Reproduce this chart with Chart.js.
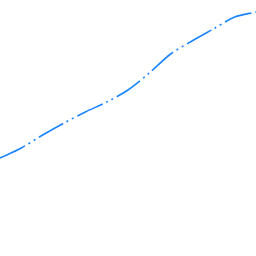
<!DOCTYPE html>
<html>
<head>
<meta charset="utf-8">
<script src="https://cdn.jsdelivr.net/npm/chart.js@4"></script>
<style>
  html, body { margin: 0; padding: 0; background: #fff; }
  #wrap { width: 256px; height: 256px; }
</style>
</head>
<body>
<div id="wrap"><canvas id="lineChart"></canvas></div>
<script>
const labels = [0, 1, 2, 3, 4, 5, 6, 7, 8, 9, 10, 11, 12];
const values = [98, 108, 121, 133, 144, 154, 166, 183, 202, 215, 227, 239, 244];
const yMin = 0;
const yMax = 256;

const ctx = document.getElementById('lineChart').getContext('2d');

new Chart(ctx, {
  type: 'line',
  data: {
    labels: labels,
    datasets: [
      {
        data: values,
        borderColor: '#1a85ff',
        borderWidth: 1.6,
        borderDash: [28, 4, 2, 4, 2, 4],
        pointRadius: 0,
        tension: 0.3,
        fill: false,
      },
    ],
  },
  options: {
    responsive: true,
    maintainAspectRatio: false,
    animation: false,
    layout: { padding: 0 },
    plugins: {
      legend: { display: false },
      tooltip: { enabled: false },
    },
    scales: {
      x: { display: false, offset: false },
      y: { display: false, min: yMin, max: yMax },
    },
  },
});
</script>
</body>
</html>
